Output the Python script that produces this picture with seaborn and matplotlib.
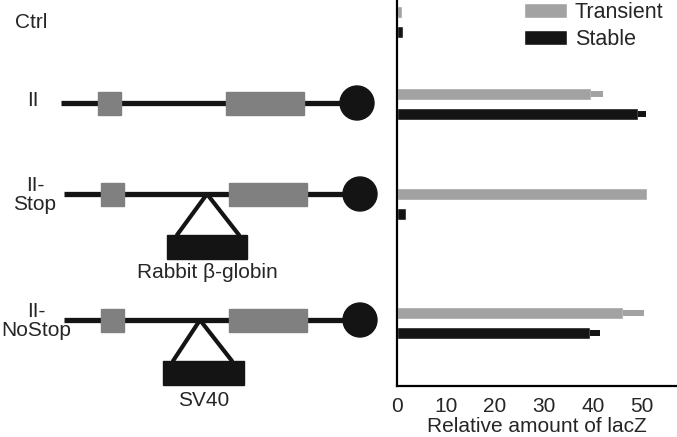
import numpy as np
import pandas as pd
import matplotlib
matplotlib.use("Agg")
import matplotlib.pyplot as plt
from matplotlib.patches import Rectangle, Circle, Patch
import seaborn as sns

# constructs and measured lacZ (relative amount)
constructs = ["Ctrl", "II", "II-\nStop", "II-\nNoStop"]
conditions = ["Transient", "Stable"]
transient = [1.0, 39.5, 51.0, 46.1]
stable = [1.3, 49.1, 1.8, 39.4]
transient_err = [0.0, 2.5, 0.0, 4.3]
stable_err = [0.0, 1.7, 0.0, 2.0]
xticks = [0, 10, 20, 30, 40, 50]

# layout (figure pixels, y downwards)
row_y = [22, 104, 204, 323]
colors = {"Transient": "#a2a2a2", "Stable": "#141414"}

sns.set_style("white")
plt.rcParams["font.family"] = ["Liberation Sans", "DejaVu Sans"]
plt.rcParams["font.size"] = 15

fig = plt.figure(figsize=(6.77, 4.37), dpi=100)

df = pd.DataFrame({
    "pos": row_y * 2,
    "value": transient + stable,
    "cond": ["Transient"] * 4 + ["Stable"] * 4,
})

ax = fig.add_axes([397 / 677, 51 / 437, 280 / 677, 386 / 437])
sns.barplot(data=df, x="value", y="pos", hue="cond", hue_order=conditions,
            orient="h", native_scale=True, palette=colors, width=40 / 82,
            gap=0.36, legend=False, ax=ax, errorbar=None)

# one-sided error bars drawn as thin extensions
for vals, errs, off, c in [(transient, transient_err, -10, "Transient"),
                           (stable, stable_err, 10, "Stable")]:
    for y, v, e in zip(row_y, vals, errs):
        if e > 0:
            ax.errorbar(v, y + off, xerr=[[0], [e]], fmt="none",
                        ecolor=colors[c], elinewidth=4.3, capsize=0)

ax.set_xlim(0, 280 / 4.9)
ax.set_ylim(386, 0)
ax.set_xticks(xticks)
ax.set_yticks([])
ax.set_ylabel("")
ax.set_xlabel("Relative amount of lacZ", fontsize=15, labelpad=1)
ax.tick_params(axis="x", length=0, pad=8, labelsize=15)
sns.despine(ax=ax, top=True, right=True)
for s in ["left", "bottom"]:
    ax.spines[s].set_color("black")
    ax.spines[s].set_linewidth(1.6)

handles = [Patch(facecolor=colors[c], label=c) for c in conditions]
ax.legend(handles=handles, loc="upper right", bbox_to_anchor=(1.02, 1.045),
          frameon=False, handlelength=2.0, handleheight=0.7,
          handletextpad=0.35, labelspacing=0.3, fontsize=15.5)

# construct diagrams on the left
dax = fig.add_axes([0, 0, 397 / 677, 1])
dax.set_xlim(0, 397)
dax.set_ylim(437, 0)
dax.axis("off")

gray = "#808080"
black = "#141414"


def construct(y, x0, shift):
    dax.plot([x0, 357 + shift], [y, y], color=black, lw=3.8, solid_capstyle="butt", zorder=1)
    dax.add_patch(Rectangle((98 + shift, y - 11.5), 23, 23, color=gray, zorder=2))
    dax.add_patch(Rectangle((226 + shift, y - 11.5), 78, 23, color=gray, zorder=2))
    dax.add_patch(Circle((357 + shift, y), 17, color=black, zorder=3))


construct(103, 61, 0)
construct(194, 64, 3)
construct(320, 64, 3)

# inserts
for apex, base_l, base_r, ytop, ybox, box_l, box_r, label, ylab in [
        (207, 177, 239, 194, 235, 167, 247, "Rabbit β-globin", 273),
        (200, 173, 232, 320, 361, 163, 244, "SV40", 400)]:
    dax.plot([base_l, apex, base_r], [ybox, ytop, ybox], color=black, lw=3, zorder=1)
    dax.add_patch(Rectangle((box_l, ybox), box_r - box_l, 24, color=black, zorder=2))
    dax.text((box_l + box_r) / 2, ylab, label, ha="center", va="center", fontsize=15)

for name, y, x in zip(constructs, [23, 100, 195, 321], [31, 33, 35, 36]):
    dax.text(x, y, name, ha="center", va="center", fontsize=15, linespacing=1.05)

fig.savefig("out.png", dpi=100)
